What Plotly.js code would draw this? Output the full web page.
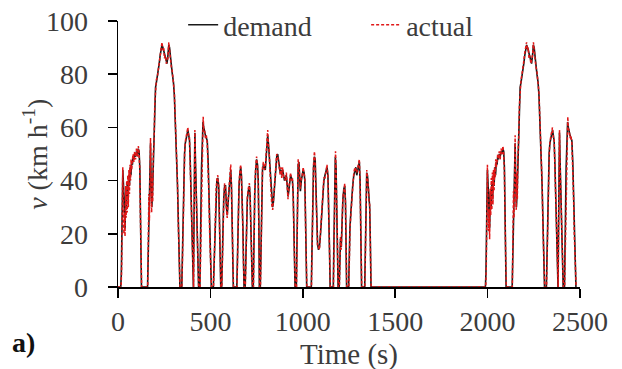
<!DOCTYPE html>
<html>
<head>
<meta charset="utf-8">
<script src="https://cdn.plot.ly/plotly-3.0.1.min.js"></script>
<style>html,body{margin:0;padding:0;background:#fff;}#chart{width:622px;height:369px;}</style>
</head>
<body>
<div id="chart"></div>
<script>
// ---- data (time s, speed km/h) ----
const seriesNames = ['demand', 'actual'];
const xTicks = [0, 500, 1000, 1500, 2000, 2500];
const yTicks = [0, 20, 40, 60, 80, 100];
const xTitle = 'Time (s)';
const yTitle = '<i>v</i> (km h<sup>-1</sup>)';
const panelLabel = '<b>a)</b>';

// demand: first block (0-510 s)
const demandA = [[0,0],[15,0],[18,5],[22,30],[26,44],[30,38],[34,25],[38,22],[42,36],[46,30],[50,39],[54,33],[58,42],[62,38],[66,45],[70,42],[74,47],[78,46],[82,49],[86,48],[90,50],[95,49],[100,51],[105,50],[110,52],[114,51],[118,45],[121,30],[124,12],[127,0],[160,0],[163,10],[166,28],[170,30],[173,45],[176,54],[179,40],[183,30],[187,36],[191,48],[195,55],[199,68],[203,75],[208,77],[213,79],[218,81],[223,84],[228,87],[233,89],[238,91],[243,90],[247,89],[251,87],[256,86],[261,85],[265,84],[270,87],[275,91],[279,90],[283,86],[288,84],[294,80],[300,77],[305,72],[310,64],[314,56],[318,46],[322,38],[326,25],[330,12],[335,0],[345,0],[348,10],[352,28],[356,40],[360,50],[364,54],[368,56],[373,58],[378,59],[383,57],[387,55],[391,47],[395,35],[399,20],[403,8],[406,0],[408,0],[410,15],[413,40],[416,58],[419,48],[423,35],[427,25],[431,12],[436,0],[443,0],[446,10],[449,30],[452,45],[456,56],[460,62],[464,60],[468,58],[473,57],[478,56],[483,55],[488,47],[492,35],[496,22],[500,10],[505,0]];

// demand: urban block (510-1370 s)
const demandB = [[516,0],[520,10],[525,25],[530,36],[535,40],[540,41],[545,38],[549,25],[553,10],[556,0],[561,0],[564,10],[568,25],[572,33],[577,38],[582,38],[587,30],[591,27],[596,32],[601,38],[606,42],[610,44],[614,38],[618,22],[621,8],[624,0],[643,0],[646,10],[650,28],[655,38],[660,43],[664,45],[668,42],[672,35],[676,22],[679,10],[682,0],[688,0],[691,10],[695,25],[700,33],[705,36],[711,38],[715,34],[719,25],[723,14],[727,0],[732,0],[735,15],[740,35],[745,44],[750,48],[755,46],[759,40],[762,25],[765,0],[770,0],[773,15],[777,36],[782,44],[787,46],[792,45],[797,44],[801,48],[805,52],[810,57],[814,54],[818,50],[822,45],[827,38],[832,32],[837,30],[841,32],[846,38],[851,44],[855,47],[859,49],[864,50],[868,48],[873,45],[878,43],[882,44],[886,42],[891,44],[896,42],[901,40],[906,41],[911,42],[916,38],[920,34],[924,36],[929,41],[934,42],[939,41],[944,40],[948,35],[952,20],[955,8],[958,0],[965,0],[968,15],[971,35],[975,46],[979,47],[983,40],[987,36],[992,40],[997,43],[1002,44],[1007,43],[1011,40],[1015,25],[1019,8],[1021,0],[1046,0],[1049,15],[1053,35],[1058,45],[1063,49],[1067,48],[1071,38],[1075,25],[1080,16],[1085,14],[1090,15],[1096,20],[1102,28],[1108,35],[1114,40],[1120,42],[1126,44],[1131,45],[1136,42],[1141,30],[1145,12],[1148,0],[1165,0],[1168,15],[1172,38],[1176,49],[1180,45],[1184,30],[1188,12],[1191,0],[1197,0],[1200,10],[1204,18],[1208,15],[1212,25],[1217,33],[1222,37],[1227,38],[1231,32],[1234,18],[1237,0],[1248,0],[1251,12],[1255,22],[1260,28],[1265,34],[1270,38],[1276,42],[1282,44],[1287,45],[1292,42],[1297,44],[1302,46],[1306,47],[1310,40],[1314,20],[1318,0],[1335,0],[1338,15],[1342,35],[1346,43],[1350,42],[1354,38],[1358,33],[1362,30],[1366,15],[1369,0],[1973,0]];

// demand: last block (1973-2500 s)
const demandC = [[1988,0],[1991,5],[1995,30],[1999,44],[2003,38],[2007,25],[2011,22],[2015,36],[2019,30],[2023,39],[2027,33],[2031,42],[2035,38],[2039,45],[2043,42],[2047,47],[2051,46],[2055,49],[2059,48],[2063,50],[2068,49],[2073,51],[2078,50],[2083,52],[2087,51],[2091,45],[2094,30],[2097,12],[2100,0],[2133,0],[2136,10],[2139,28],[2143,30],[2146,45],[2149,54],[2152,40],[2156,30],[2160,36],[2164,48],[2168,55],[2172,68],[2176,75],[2181,77],[2186,79],[2191,81],[2196,84],[2201,87],[2206,89],[2211,91],[2216,90],[2220,89],[2224,87],[2229,86],[2234,85],[2238,84],[2243,87],[2248,91],[2252,90],[2256,86],[2261,84],[2267,80],[2273,77],[2278,72],[2283,64],[2287,56],[2291,46],[2295,38],[2299,25],[2303,12],[2308,0],[2318,0],[2321,10],[2325,28],[2329,40],[2333,50],[2337,54],[2341,56],[2346,58],[2351,59],[2356,57],[2360,55],[2364,47],[2368,35],[2372,20],[2376,8],[2379,0],[2381,0],[2383,15],[2386,40],[2389,58],[2392,48],[2396,35],[2400,25],[2404,12],[2409,0],[2416,0],[2419,10],[2422,30],[2425,45],[2429,56],[2433,62],[2437,60],[2441,58],[2446,57],[2451,56],[2456,55],[2461,47],[2465,35],[2469,22],[2473,10],[2478,0]];

// actual: first block
const actualA = [[0,0],[17,0],[20,8],[23,35],[26,45],[29,30],[32,20],[35,28],[38,19],[41,38],[44,26],[47,40],[50,28],[53,42],[56,30],[59,44],[62,35],[65,46],[68,40],[71,48],[74,44],[78,48],[82,50],[86,47],[90,51],[95,48],[100,52],[105,49],[110,53],[114,50],[118,44],[121,28],[124,10],[128,0],[161,0],[164,12],[167,35],[170,25],[173,48],[176,56],[179,35],[182,28],[185,42],[188,32],[191,50],[195,54],[199,69],[203,74],[208,78],[213,79],[218,82],[223,85],[228,87],[233,90],[238,92],[243,89],[247,90],[251,86],[256,87],[261,84],[265,85],[270,86],[275,92],[279,89],[283,87],[288,83],[294,81],[300,76],[305,73],[310,63],[314,57],[318,45],[322,39],[326,24],[330,11],[336,0],[346,0],[349,12],[353,30],[357,42],[361,51],[365,55],[369,57],[374,59],[378,60],[383,56],[387,56],[391,45],[395,34],[399,18],[403,6],[407,0],[409,0],[411,20],[414,48],[416,59],[419,46],[423,33],[427,26],[431,10],[437,0],[444,0],[447,12],[450,33],[453,46],[457,57],[461,64],[464,59],[468,59],[473,56],[478,57],[483,54],[488,46],[492,34],[496,20],[501,8],[506,0]];

// actual: urban block
const actualB = [[517,0],[521,12],[526,27],[531,37],[536,41],[540,42],[545,37],[549,24],[553,9],[557,0],[562,0],[565,12],[569,27],[573,34],[577,39],[582,37],[587,29],[591,26],[596,33],[601,39],[606,43],[610,46],[614,37],[618,20],[621,6],[625,0],[644,0],[647,12],[651,30],[655,39],[660,44],[664,46],[668,41],[672,34],[676,21],[679,9],[683,0],[689,0],[692,12],[696,27],[700,34],[705,37],[711,39],[715,33],[719,24],[723,12],[728,0],[733,0],[736,17],[740,37],[745,45],[750,49],[755,45],[759,39],[762,22],[766,0],[771,0],[774,18],[778,38],[782,45],[787,47],[792,44],[797,45],[801,49],[805,53],[810,59],[814,53],[818,51],[822,44],[827,37],[832,31],[837,29],[841,33],[846,39],[851,45],[855,48],[859,50],[864,49],[868,47],[873,46],[878,42],[882,45],[886,41],[891,45],[896,41],[901,41],[906,40],[911,43],[916,37],[920,33],[924,37],[929,40],[934,43],[939,40],[944,41],[948,34],[952,18],[955,6],[959,0],[966,0],[969,18],[972,38],[975,48],[979,46],[983,39],[987,37],[992,41],[997,42],[1002,45],[1007,42],[1011,41],[1015,23],[1019,6],[1022,0],[1047,0],[1050,18],[1054,38],[1058,46],[1063,51],[1067,47],[1071,36],[1075,23],[1080,15],[1085,15],[1090,14],[1096,21],[1102,29],[1108,36],[1114,41],[1120,41],[1126,45],[1131,46],[1136,41],[1141,28],[1145,10],[1149,0],[1166,0],[1169,18],[1173,40],[1177,51],[1180,44],[1184,28],[1188,10],[1192,0],[1198,0],[1201,12],[1204,19],[1208,14],[1212,26],[1217,34],[1222,36],[1227,39],[1231,31],[1234,16],[1238,0],[1249,0],[1252,14],[1256,23],[1260,27],[1265,35],[1270,37],[1276,43],[1282,45],[1287,44],[1292,43],[1297,45],[1302,47],[1306,48],[1310,38],[1314,18],[1319,0],[1336,0],[1339,17],[1343,37],[1346,44],[1350,41],[1354,39],[1358,32],[1362,31],[1366,13],[1370,0],[1973,0]];

// actual: last block
const actualC = [[1990,0],[1993,8],[1996,36],[1999,46],[2002,29],[2005,21],[2008,29],[2011,18],[2014,37],[2017,27],[2020,41],[2023,29],[2026,43],[2029,31],[2032,44],[2035,36],[2038,45],[2041,41],[2044,48],[2047,45],[2051,47],[2055,50],[2059,48],[2063,51],[2068,48],[2073,52],[2078,50],[2083,53],[2087,50],[2091,43],[2094,27],[2097,9],[2101,0],[2134,0],[2137,12],[2140,36],[2143,26],[2146,49],[2149,57],[2152,36],[2155,29],[2158,43],[2161,33],[2164,49],[2168,55],[2172,68],[2176,74],[2181,78],[2186,80],[2191,82],[2196,85],[2201,88],[2206,90],[2211,92],[2216,89],[2220,90],[2224,86],[2229,87],[2234,84],[2238,85],[2243,87],[2248,92],[2252,89],[2256,87],[2261,83],[2267,81],[2273,76],[2278,73],[2283,63],[2287,57],[2291,45],[2295,39],[2299,24],[2303,11],[2309,0],[2319,0],[2322,12],[2326,30],[2330,42],[2334,51],[2338,55],[2342,57],[2347,59],[2351,60],[2356,56],[2360,56],[2364,45],[2368,34],[2372,18],[2376,6],[2380,0],[2382,0],[2384,20],[2387,48],[2389,59],[2392,46],[2396,33],[2400,26],[2404,10],[2410,0],[2417,0],[2420,12],[2423,33],[2426,46],[2430,57],[2434,64],[2437,59],[2441,59],[2446,56],[2451,57],[2456,54],[2461,46],[2465,34],[2469,20],[2474,8],[2479,0]];

// ---- build traces ----
const demand = demandA.concat(demandB, demandC);
const actual = actualA.concat(actualB, actualC);

const serif = 'Liberation Serif, Times New Roman, serif';
const textColor = '#3c3c3c';

const traces = [
  {
    x: demand.map(p => p[0]), y: demand.map(p => p[1]),
    type: 'scatter', mode: 'lines', name: seriesNames[0],
    line: {color: '#1a1a1a', width: 1.6}
  },
  {
    x: actual.map(p => p[0]), y: actual.map(p => p[1]),
    type: 'scatter', mode: 'lines', name: seriesNames[1],
    line: {color: '#e01818', width: 1.5, dash: '3px,2px'}
  }
];

const layout = {
  width: 622, height: 369,
  margin: {l: 118, r: 42, t: 21, b: 82, pad: 0, autoexpand: false},
  paper_bgcolor: '#ffffff', plot_bgcolor: '#ffffff',
  font: {family: serif, size: 28, color: textColor},
  showlegend: true,
  xaxis: {
    range: [0, 2500], tickvals: xTicks, ticktext: xTicks.map(String),
    showline: true, linecolor: '#000', linewidth: 1.5,
    ticks: 'outside', ticklen: 9, tickwidth: 1.5, tickcolor: '#000',
    showgrid: false, zeroline: false, ticklabelstandoff: 0,
    tickfont: {family: serif, size: 28, color: textColor}
  },
  yaxis: {
    range: [0, 100], tickvals: yTicks, ticktext: yTicks.map(String),
    showline: true, linecolor: '#000', linewidth: 1.5,
    ticks: 'outside', ticklen: 9, tickwidth: 1.5, tickcolor: '#000',
    showgrid: false, zeroline: false, ticklabelstandoff: 14,
    tickfont: {family: serif, size: 28, color: textColor}
  },
  legend: {
    orientation: 'h', x: 0.141, xanchor: 'left', y: 0.985, yanchor: 'middle',
    bgcolor: 'rgba(255,255,255,0)', borderwidth: 0,
    font: {family: serif, size: 28, color: textColor},
    entrywidth: 138, entrywidthmode: 'pixels'
  },
  annotations: [
    {
      text: xTitle, xref: 'paper', yref: 'paper',
      x: 0.5, xanchor: 'center', y: -0.252, yanchor: 'middle',
      showarrow: false, font: {family: serif, size: 29, color: textColor}
    },
    {
      text: yTitle, xref: 'paper', yref: 'paper', textangle: -90,
      x: -0.18, xanchor: 'center', y: 0.5, yanchor: 'middle',
      showarrow: false, font: {family: serif, size: 28, color: textColor}
    },
    {
      text: panelLabel, xref: 'paper', yref: 'paper',
      x: -0.234, xanchor: 'left', y: -0.207, yanchor: 'middle',
      showarrow: false, font: {family: serif, size: 28, color: '#111'}
    }
  ]
};

Plotly.newPlot('chart', traces, layout, {displayModeBar: false, staticPlot: true});
</script>
</body>
</html>
